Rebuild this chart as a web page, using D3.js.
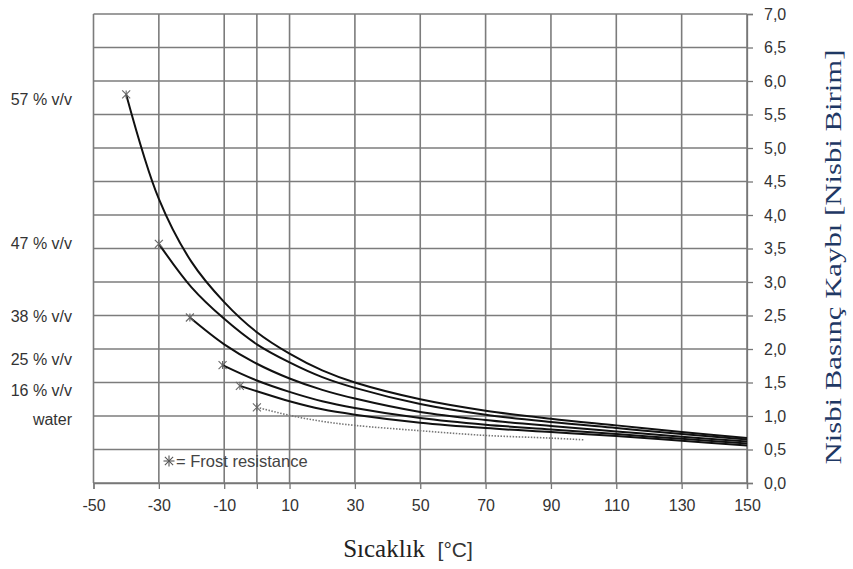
<!DOCTYPE html>
<html>
<head>
<meta charset="utf-8">
<script src="https://cdn.jsdelivr.net/npm/d3@7"></script>
<style>
html,body{margin:0;padding:0;background:#fff;}
svg{display:block;}
</style>
</head>
<body>
<svg id="chart" width="853" height="569"></svg>
<script>
// ---- data ----
const seriesNames = ["57 % v/v", "47 % v/v", "38 % v/v", "25 % v/v", "16 % v/v", "water"];
const temps57 = [-40, -30, -20, -10, 0, 10, 20, 30, 50, 70, 90, 110, 130, 150];
const vals57  = [5.8, 4.24, 3.3, 2.7, 2.25, 1.93, 1.68, 1.5, 1.25, 1.08, 0.96, 0.86, 0.76, 0.67];
const temps47 = [-30, -20, -10, 0, 10, 20, 30, 50, 70, 90, 110, 130, 150];
const vals47  = [3.57, 2.92, 2.45, 2.07, 1.8, 1.58, 1.42, 1.18, 1.02, 0.91, 0.82, 0.73, 0.65];
const temps38 = [-20.5, -10, 0, 10, 20, 30, 50, 70, 90, 110, 130, 150];
const vals38  = [2.47, 2.07, 1.78, 1.56, 1.39, 1.26, 1.06, 0.94, 0.85, 0.77, 0.69, 0.62];
const temps25 = [-10.5, 0, 10, 20, 30, 50, 70, 90, 110, 130, 150];
const vals25  = [1.76, 1.53, 1.36, 1.22, 1.12, 0.97, 0.87, 0.8, 0.73, 0.66, 0.59];
const temps16 = [-5.2, 0, 10, 20, 30, 50, 70, 90, 110, 130, 150];
const vals16  = [1.45, 1.37, 1.22, 1.1, 1.02, 0.9, 0.82, 0.76, 0.7, 0.63, 0.56];
const tempsW  = [0, 10, 20, 30, 50, 70, 90, 100];
const valsW   = [1.13, 1.01, 0.92, 0.86, 0.78, 0.71, 0.67, 0.645];
const labelY  = [5.73, 3.57, 2.48, 1.84, 1.38, 0.95]; // label anchor value on y scale
const xTicks  = [-50, -30, -10, 10, 30, 50, 70, 90, 110, 130, 150];
const xGrid   = [-50, -30, -10, 0, 10, 30, 50, 70, 90, 110, 130, 150];
const yTicks  = d3.range(0, 7.01, 0.5);
const xTitleMain = "Sıcaklık";
const xTitleUnit = "[°C]";
const yTitle  = "Nisbi Basınç Kaybı [Nisbi Birim]";
const legendText = "= Frost resistance";

const series = [
  {name: seriesNames[0], t: temps57, v: vals57, dotted: false},
  {name: seriesNames[1], t: temps47, v: vals47, dotted: false},
  {name: seriesNames[2], t: temps38, v: vals38, dotted: false},
  {name: seriesNames[3], t: temps25, v: vals25, dotted: false},
  {name: seriesNames[4], t: temps16, v: vals16, dotted: false},
  {name: seriesNames[5], t: tempsW,  v: valsW,  dotted: true}
];

// ---- layout ----
const svg = d3.select("#chart");
const L = 93.5, R = 747, T = 14, B = 483;
const x = d3.scaleLinear().domain([-50, 150]).range([L, R]);
const y = d3.scaleLinear().domain([0, 7]).range([B, T]);
const gridColor = "#7c7c7c";
const sans = "'Liberation Sans', Arial, sans-serif";
const serif = "'Liberation Serif', 'Times New Roman', serif";

// grid
const g = svg.append("g");
g.selectAll("line.vg").data(xGrid).enter().append("line")
  .attr("x1", d => x(d)).attr("x2", d => x(d))
  .attr("y1", T).attr("y2", B)
  .attr("stroke", gridColor).attr("stroke-width", 1.6);
g.selectAll("line.hg").data(yTicks).enter().append("line")
  .attr("x1", L).attr("x2", R)
  .attr("y1", d => y(d)).attr("y2", d => y(d))
  .attr("stroke", gridColor).attr("stroke-width", 1.6);

// axes
const xAxis = d3.axisBottom(x).tickValues(xGrid).tickSize(6).tickPadding(11)
  .tickFormat(d => xTicks.includes(d) ? String(d) : "");
const xa = svg.append("g").attr("transform", `translate(0,${B})`).call(xAxis);
xa.select(".domain").attr("stroke", "#777").attr("stroke-width", 1.3);
xa.selectAll(".tick line").attr("stroke", "#777").attr("stroke-width", 1.3);
xa.selectAll(".tick text").attr("fill", "#333")
  .style("font-family", sans).style("font-size", "16px");

const yAxis = d3.axisRight(y).tickValues(yTicks).tickSize(6).tickPadding(11)
  .tickFormat(d => d3.format(".1f")(d).replace(".", ","));
const ya = svg.append("g").attr("transform", `translate(${R},0)`).call(yAxis);
ya.select(".domain").attr("stroke", "#777").attr("stroke-width", 1.3);
ya.selectAll(".tick line").attr("stroke", "#777").attr("stroke-width", 1.3);
ya.selectAll(".tick text").attr("fill", "#333")
  .style("font-family", sans).style("font-size", "16px");

// curves
const line = d3.line().x(d => x(d[0])).y(d => y(d[1])).curve(d3.curveCatmullRom.alpha(0.5));
series.forEach(s => {
  const pts = s.t.map((t, i) => [t, s.v[i]]);
  svg.append("path").datum(pts)
    .attr("d", line)
    .attr("fill", "none")
    .attr("stroke", s.dotted ? "#777" : "#111")
    .attr("stroke-width", s.dotted ? 1.6 : 2)
    .attr("stroke-dasharray", s.dotted ? "1.5,1.5" : null);
  drawStar(x(pts[0][0]), y(pts[0][1]), 4);
});

function drawStar(cx, cy, r) {
  const gg = svg.append("g").attr("stroke", "#666").attr("stroke-width", 1.1);
  gg.append("line").attr("x1", cx - r).attr("x2", cx + r).attr("y1", cy - r).attr("y2", cy + r);
  gg.append("line").attr("x1", cx - r).attr("x2", cx + r).attr("y1", cy + r).attr("y2", cy - r);
  gg.append("line").attr("x1", cx).attr("x2", cx).attr("y1", cy - r).attr("y2", cy + r);
}

// left labels
svg.selectAll("text.lbl").data(series).enter().append("text")
  .attr("x", 72).attr("y", (d, i) => y(labelY[i]))
  .attr("dy", "0.35em").attr("text-anchor", "end")
  .attr("fill", "#333")
  .style("font-family", sans).style("font-size", "16px")
  .text(d => d.name);

// legend
(function () {
  const lx = 169, ly = 461;
  const gg = svg.append("g").attr("stroke", "#555").attr("stroke-width", 1.1);
  const r = 5.5;
  gg.append("line").attr("x1", lx - r).attr("x2", lx + r).attr("y1", ly).attr("y2", ly);
  gg.append("line").attr("x1", lx).attr("x2", lx).attr("y1", ly - r).attr("y2", ly + r);
  gg.append("line").attr("x1", lx - r * 0.75).attr("x2", lx + r * 0.75).attr("y1", ly - r * 0.75).attr("y2", ly + r * 0.75);
  gg.append("line").attr("x1", lx - r * 0.75).attr("x2", lx + r * 0.75).attr("y1", ly + r * 0.75).attr("y2", ly - r * 0.75);
  svg.append("text").attr("x", lx + 7).attr("y", ly).attr("dy", "0.35em")
    .attr("fill", "#444")
    .style("font-family", sans).style("font-size", "16.5px")
    .text(legendText);
})();

// titles
const xt = svg.append("text").attr("x", 408).attr("y", 557)
  .attr("text-anchor", "middle").attr("fill", "#222");
xt.append("tspan").style("font-family", serif).style("font-size", "25px").text(xTitleMain + "\u00a0\u00a0");
xt.append("tspan").style("font-family", sans).style("font-size", "21px").attr("fill", "#333").text(xTitleUnit);

svg.append("text")
  .attr("transform", "translate(833,257) rotate(-90)")
  .attr("dy", "0.35em")
  .attr("text-anchor", "middle").attr("fill", "#1f3864")
  .attr("textLength", 415).attr("lengthAdjust", "spacingAndGlyphs")
  .style("font-family", serif).style("font-size", "24px")
  .text(yTitle);
</script>
</body>
</html>
